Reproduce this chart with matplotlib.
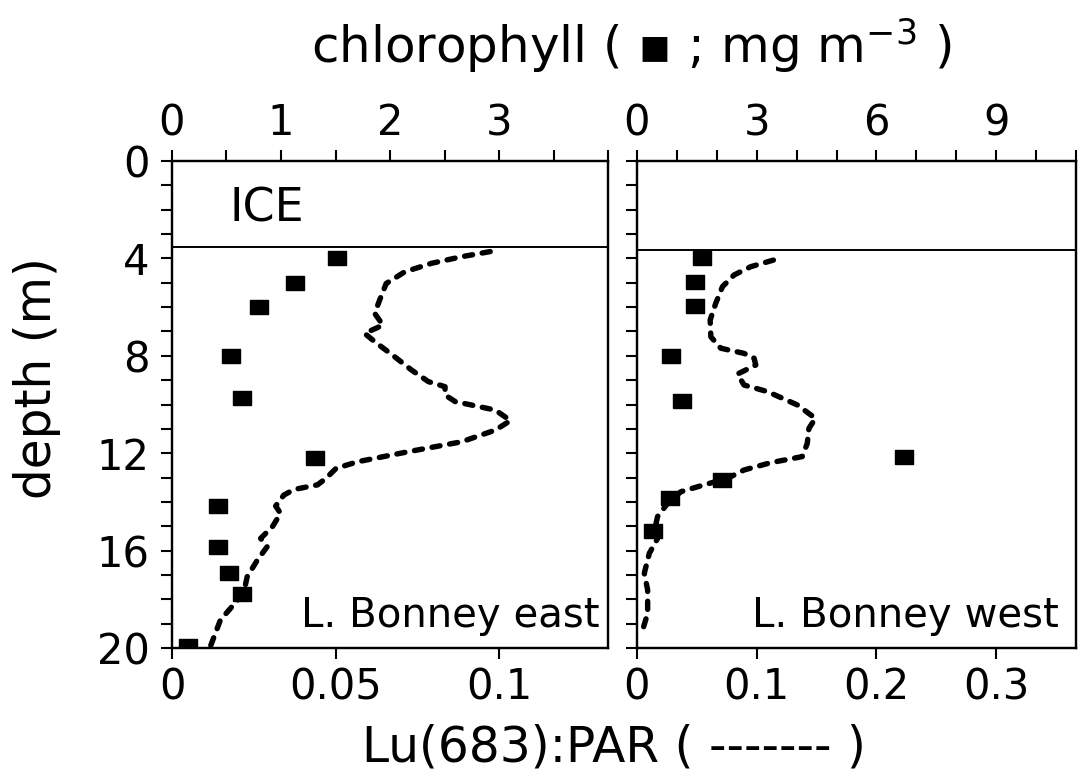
import matplotlib
matplotlib.use("Agg")
import matplotlib.pyplot as plt
from matplotlib.ticker import MultipleLocator, FixedLocator

plt.rcParams['font.family'] = ['DejaVu Sans']
plt.rcParams['mathtext.fontset'] = 'custom'
plt.rcParams['mathtext.rm'] = 'DejaVu Sans'
plt.rcParams['mathtext.it'] = 'DejaVu Sans'

# ---------------- data ----------------
east_chl_depth = [4.0, 5.0, 6.0, 8.0, 9.75, 12.2, 14.15, 15.85, 16.9, 17.8, 19.9]
east_chl = [1.51, 1.13, 0.80, 0.54, 0.64, 1.31, 0.42, 0.42, 0.52, 0.64, 0.15]

west_chl_depth = [4.0, 4.95, 5.95, 8.0, 9.85, 12.15, 13.1, 13.85, 15.2]
west_chl = [1.64, 1.45, 1.45, 0.84, 1.14, 6.68, 2.14, 0.82, 0.41]

east_lu_depth = [3.72, 3.93, 4.2, 4.55, 5.03, 5.71, 6.26, 6.74, 7.08, 7.42, 8.04, 8.58,
                 9.06, 9.27, 9.61, 9.88, 10.23, 10.66, 11.05, 11.53, 11.94, 12.35, 12.62,
                 13.03, 13.3, 13.49, 13.72, 14.17, 14.47, 15.02, 15.5, 15.84, 16.39, 17.07,
                 17.75, 18.85, 19.95]
east_lu = [0.0973, 0.0886, 0.0794, 0.0712, 0.0655, 0.0635, 0.062, 0.0645, 0.0589, 0.062,
           0.0681, 0.0732, 0.0784, 0.0835, 0.0835, 0.0866, 0.0989, 0.1035, 0.0989, 0.0886,
           0.0722, 0.0568, 0.0502, 0.0471, 0.0445, 0.0373, 0.0342, 0.0317, 0.0332, 0.0307,
           0.0271, 0.0291, 0.0261, 0.023, 0.0219, 0.0148, 0.0117]

west_lu_depth = [4.07, 4.34, 4.68, 5.16, 5.84, 6.53, 7.22, 7.69, 7.9, 8.1, 8.38, 8.75,
                 9.2, 9.47, 10.02, 10.57, 10.98, 11.6, 12.14, 12.39, 12.69, 13.03, 13.3,
                 13.58, 14.06, 14.6, 15.22, 15.5, 16.11, 16.93, 17.62, 18.58, 19.26]
west_lu = [0.1139, 0.095, 0.0811, 0.0714, 0.0658, 0.0611, 0.0617, 0.07, 0.0894, 0.0978,
           0.0992, 0.0839, 0.0894, 0.1089, 0.134, 0.149, 0.1436, 0.1422, 0.138, 0.1117,
           0.0894, 0.0756, 0.0561, 0.0367, 0.0256, 0.0172, 0.0144, 0.0172, 0.0103, 0.0061,
           0.0089, 0.0089, 0.0047]

ice_east = 3.52
ice_west = 3.65

panels = [
    dict(name="L. Bonney east", chl_max=4.0, chl_minor=0.5, chl_labels=[0, 1, 2, 3],
         lu_ticks=[0, 0.05, 0.1], lu_labels=["0", "0.05", "0.1"],
         chl=east_chl, chl_d=east_chl_depth, lu=east_lu, lu_d=east_lu_depth,
         ice=ice_east, ice_text=True),
    dict(name="L. Bonney west", chl_max=11.0, chl_minor=1.0, chl_labels=[0, 3, 6, 9],
         lu_ticks=[0, 0.1, 0.2, 0.3], lu_labels=["0", "0.1", "0.2", "0.3"],
         chl=west_chl, chl_d=west_chl_depth, lu=west_lu, lu_d=west_lu_depth,
         ice=ice_west, ice_text=False),
]

fig = plt.figure(figsize=(10.83, 7.81), dpi=100)
W, H = 1083, 781
boxes = [(172, 608), (637, 1076)]
top_px, bot_px = 161, 648

rect_marker = [(-1.4, -1), (1.4, -1), (1.4, 1), (-1.4, 1), (-1.4, -1)]
fs_tick = 30
for i, (p, (x0, x1)) in enumerate(zip(panels, boxes)):
    ax = fig.add_axes([x0 / W, 1 - bot_px / H, (x1 - x0) / W, (bot_px - top_px) / H])
    ax.set_xlim(0, p['chl_max'] / 30.0)
    ax.set_ylim(20, 0)
    for s in ax.spines.values():
        s.set_linewidth(1.6)
    ax.xaxis.set_major_locator(FixedLocator(p['lu_ticks']))
    ax.set_xticklabels(p['lu_labels'])
    ax.yaxis.set_major_locator(MultipleLocator(4))
    ax.yaxis.set_minor_locator(MultipleLocator(1))
    ax.tick_params(axis='both', which='both', direction='out', length=8, width=1.5,
                   labelsize=fs_tick)
    ax.tick_params(axis='x', pad=5)
    ax.tick_params(axis='y', pad=8)
    if i > 0:
        ax.set_yticklabels([])

    ax.axhline(p['ice'], color='black', lw=1.4)
    ax.plot(p['lu'], p['lu_d'], color='black', lw=3.9, linestyle=(0, (1.5, 1.8)),
            dash_capstyle='round', zorder=3)

    ax2 = ax.twiny()
    ax2.set_xlim(0, p['chl_max'])
    ax2.set_ylim(20, 0)
    ax2.xaxis.set_major_locator(FixedLocator(p['chl_labels']))
    ax2.xaxis.set_minor_locator(MultipleLocator(p['chl_minor']))
    ax2.tick_params(axis='x', which='both', direction='out', length=8, width=1.5,
                    labelsize=fs_tick, pad=4)
    for s in ax2.spines.values():
        s.set_linewidth(1.6)
    ax2.plot(p['chl'], p['chl_d'], linestyle='none', marker=rect_marker,
             markersize=13.5, color='black', zorder=4)

    ax.text(0.98 if i == 0 else 0.96, 0.043, p['name'], transform=ax.transAxes,
            ha='right', va='baseline', fontsize=29)
    if p['ice_text']:
        ax.text(0.133, 0.875, "ICE", transform=ax.transAxes, ha='left', va='baseline',
                fontsize=33)

fig.text(632 / W, 1 - 46 / H, "chlorophyll ( \u25aa ; mg $\\mathregular{m^{-3}}$ )",
         ha='center', va='center', fontsize=36)
fig.text(614 / W, 1 - 748 / H, "Lu(683):PAR ( ------- )", ha='center', va='center',
         fontsize=35)
fig.text(37 / W, 1 - 378 / H, "depth (m)", ha='center', va='center', rotation=90,
         fontsize=35)

fig.savefig("out.png", dpi=100)
